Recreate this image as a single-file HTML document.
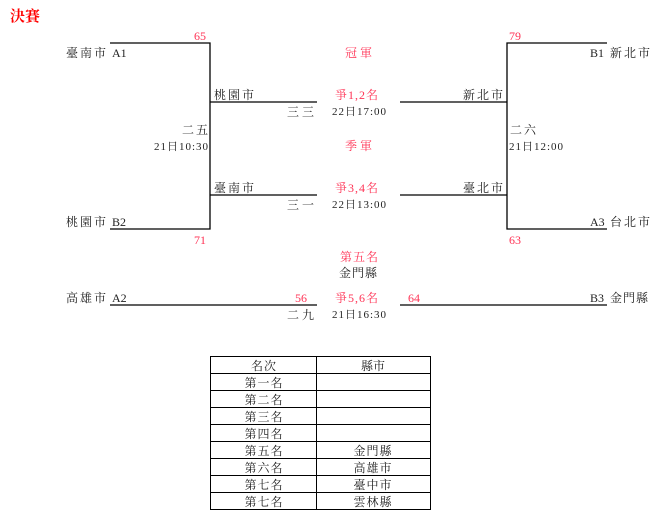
<!DOCTYPE html>
<html><head><meta charset="utf-8"><style>
html,body{margin:0;padding:0;background:#fff;width:667px;height:527px;overflow:hidden}
svg{display:block}
text{font-family:"Liberation Serif","Noto Serif CJK SC","Noto Sans CJK TC",serif;font-size:12px;fill:#222}
.r{fill:#ff3355}
.s{font-size:11px;letter-spacing:1px}
.p{letter-spacing:1px}
.t{fill:#f00;font-weight:bold;font-size:15px}
</style></head><body>
<svg width="667" height="527" viewBox="0 0 667 527">
<g stroke="#000" stroke-width="1.3" fill="none">
<path d="M110 43H210V229H110"/>
<path d="M210 102H317M210 195H317"/>
<path d="M110 305H317"/>
<path d="M607 43H507V229H607"/>
<path d="M400 102H507M400 195H507"/>
<path d="M400 305H607"/>
</g>
<text x="10" y="21" class="t">決賽</text>
<text x="66" y="57" letter-spacing="2">臺南市</text><text x="112" y="57">A1</text>
<text x="66" y="226" letter-spacing="2">桃園市</text><text x="112" y="226">B2</text>
<text x="66" y="302" letter-spacing="2">高雄市</text><text x="112" y="302">A2</text>
<text x="194" y="40" class="r">65</text>
<text x="194" y="244" class="r">71</text>
<text x="295" y="302" class="r">56</text>
<text x="214" y="99" letter-spacing="2">桃園市</text>
<text x="214" y="192" letter-spacing="2">臺南市</text>
<text x="287" y="116" letter-spacing="3">三三</text>
<text x="287" y="209" letter-spacing="3">三一</text>
<text x="287" y="319" letter-spacing="3">二九</text>
<text x="182" y="134" letter-spacing="2">二五</text>
<text x="154" y="150" class="s">21日10:30</text>
<text x="345" y="57" class="r" letter-spacing="3">冠軍</text>
<text x="335" y="99" class="r p">爭1,2名</text>
<text x="332" y="115" class="s">22日17:00</text>
<text x="345" y="150" class="r" letter-spacing="3">季軍</text>
<text x="335" y="192" class="r p">爭3,4名</text>
<text x="332" y="208" class="s">22日13:00</text>
<text x="340" y="261" class="r" letter-spacing="1">第五名</text>
<text x="339" y="277" letter-spacing="1">金門縣</text>
<text x="335" y="302" class="r p">爭5,6名</text>
<text x="332" y="318" class="s">21日16:30</text>
<text x="408" y="302" class="r">64</text>
<text x="509" y="40" class="r">79</text>
<text x="509" y="244" class="r">63</text>
<text x="463" y="99" letter-spacing="2">新北市</text>
<text x="463" y="192" letter-spacing="2">臺北市</text>
<text x="510" y="134" letter-spacing="2">二六</text>
<text x="509" y="150" class="s">21日12:00</text>
<text x="590" y="57">B1</text><text x="610" y="57" letter-spacing="2">新北市</text>
<text x="590" y="226">A3</text><text x="610" y="226" letter-spacing="2">台北市</text>
<text x="590" y="302">B3</text><text x="610" y="302" letter-spacing="1">金門縣</text>
<g stroke="#000" stroke-width="1" fill="none">
<rect x="210.5" y="356.5" width="220" height="153"/>
<path d="M316.5 356.5V509.5"/>
<path d="M210.5 373.5H430.5M210.5 390.5H430.5M210.5 407.5H430.5M210.5 424.5H430.5M210.5 441.5H430.5M210.5 458.5H430.5M210.5 475.5H430.5M210.5 492.5H430.5"/>
</g>
<g text-anchor="middle">
<text x="264" y="370" letter-spacing="1">名次</text><text x="373" y="370">縣市</text>
<text x="264" y="387" letter-spacing="1">第一名</text>
<text x="264" y="404" letter-spacing="1">第二名</text>
<text x="264" y="421" letter-spacing="1">第三名</text>
<text x="264" y="438" letter-spacing="1">第四名</text>
<text x="264" y="455" letter-spacing="1">第五名</text><text x="373" y="455" letter-spacing="1">金門縣</text>
<text x="264" y="472" letter-spacing="1">第六名</text><text x="373" y="472" letter-spacing="1">高雄市</text>
<text x="264" y="489" letter-spacing="1">第七名</text><text x="373" y="489" letter-spacing="1">臺中市</text>
<text x="264" y="506" letter-spacing="1">第七名</text><text x="373" y="506" letter-spacing="1">雲林縣</text>
</g>
</svg>
</body></html>
